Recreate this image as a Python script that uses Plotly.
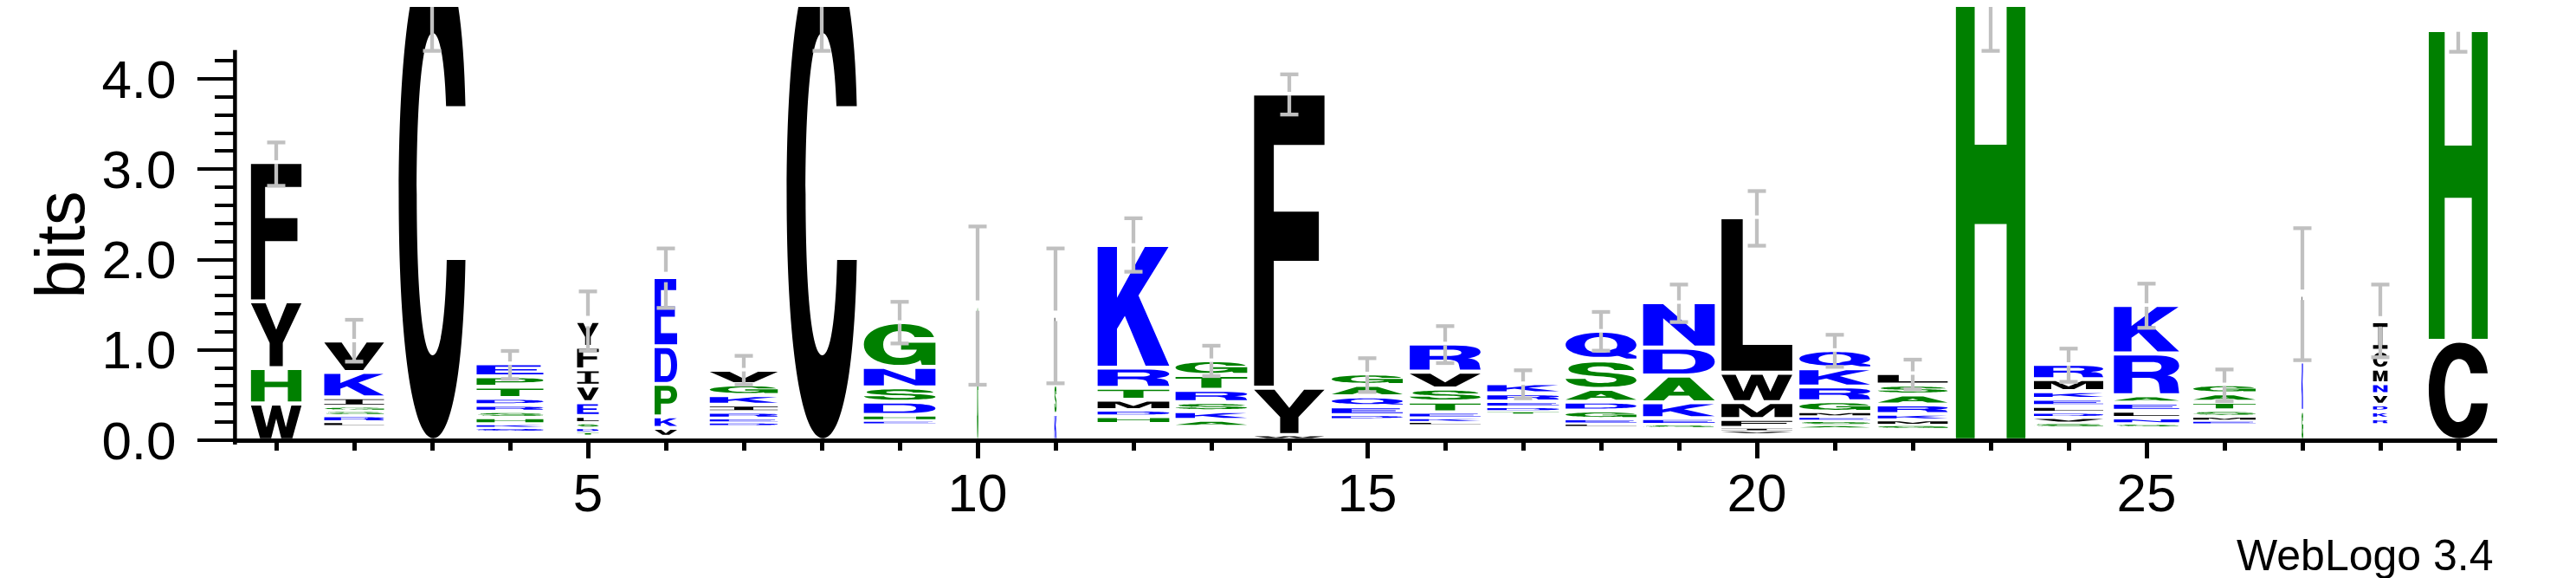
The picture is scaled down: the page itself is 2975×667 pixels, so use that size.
import re
import plotly.graph_objects as go

positions = list(range(1, 30))

# residues of every column, bottom -> top
stack_letters = [
    "WHYF", "LRSGIKV", "C", "QKHSRDTPE", "TDSLEVIFY", "VKPDE", "DERIKGV", "C",
    "EHDSNG", "G", "KSL", "HDMTRK", "AKSRTG", "WYF", "DEQAG", "LKETSVR", "TDERK",
    "LEGDASQ", "SEKADN", "VIFMWL", "ASEMGRKQ", "GMKRASL", "H", "SVDLEKMR",
    "SNLEARK", "EMSTAG", "GKL", "RKDVNMCI", "CH",
]
# height (bits) of each residue, same order
stack_bits = [
    [0.406, 0.392, 0.739, 1.543],
    [0.046, 0.074, 0.051, 0.048, 0.101, 0.281, 0.347],
    [5.45],
    [0.043, 0.042, 0.074, 0.066, 0.072, 0.077, 0.125, 0.115, 0.145],
    [0.034, 0.048, 0.054, 0.078, 0.153, 0.184, 0.179, 0.249, 0.286],
    [0.098, 0.128, 0.36, 0.417, 0.766],
    [0.037, 0.05, 0.067, 0.082, 0.107, 0.12, 0.161],
    [5.45],
    [0.038, 0.066, 0.147, 0.158, 0.227, 0.496],
    [1.49],
    [0.29, 0.33, 0.757],
    [0.088, 0.067, 0.114, 0.133, 0.222, 1.359],
    [0.074, 0.098, 0.10, 0.136, 0.165, 0.163],
    [0.043, 0.526, 3.255],
    [0.045, 0.096, 0.112, 0.126, 0.127],
    [0.032, 0.045, 0.064, 0.118, 0.144, 0.187, 0.312],
    [0.035, 0.048, 0.061, 0.09, 0.112],
    [0.032, 0.053, 0.094, 0.098, 0.141, 0.315, 0.329],
    [0.037, 0.069, 0.176, 0.297, 0.309, 0.504],
    [0.032, 0.034, 0.099, 0.187, 0.325, 1.722],
    [0.035, 0.048, 0.046, 0.054, 0.118, 0.163, 0.201, 0.203],
    [0.042, 0.058, 0.064, 0.107, 0.11, 0.109, 0.128],
    [5.2],
    [0.045, 0.064, 0.053, 0.072, 0.08, 0.085, 0.133, 0.168],
    [0.037, 0.067, 0.078, 0.09, 0.082, 0.462, 0.537],
    [0.037, 0.05, 0.067, 0.096, 0.093, 0.099],
    [0.326, 0.544, 0.74],
    [0.07, 0.08, 0.074, 0.117, 0.12, 0.16, 0.20, 0.325],
    [1.10, 3.44],
]
# bits of residues too rare to be drawn (bottom of each stack)
undrawn_bits = [0, 0.155, 0, 0.093, 0.054, 0.038, 0.157, 0, 0.176, 0, 0, 0.179,
                0.15, 0.013, 0.233, 0.169, 0.285, 0.15, 0.137, 0.07, 0.131,
                0.125, 0, 0.144, 0.144, 0.176, 0, 0.17, 0]
# stack width (fraction of a column; narrow = many gaps)
column_width = [0.648, 0.767, 0.856, 0.856, 0.278, 0.289, 0.872, 0.9, 0.919,
                0.017, 0.028, 0.919, 0.919, 0.903, 0.911, 0.908, 0.919, 0.908,
                0.919, 0.908, 0.908, 0.897, 0.892, 0.889, 0.837, 0.8, 0.022,
                0.186, 0.756]
err_low = [2.816, 0.870, 4.31, 0.678, 0.991, 1.464, 0.614, 4.31, 1.071, 0.614,
           0.630, 1.865, 0.710, 3.605, 0.534, 0.854, 0.464, 0.991, 1.308, 2.153,
           0.812, 0.566, 4.31, 0.646, 1.244, 0.432, 0.886, 0.918, 4.30]
err_high = [3.296, 1.333, 6.6, 0.988, 1.647, 2.123, 0.934, 6.6, 1.532, 2.366,
            2.123, 2.457, 1.046, 4.05, 0.908, 1.263, 0.774, 1.420, 1.723, 2.758,
            1.167, 0.892, 6.1, 1.014, 1.733, 0.783, 2.347, 1.723, 4.54]

y_tick_values = [0, 1, 2, 3, 4]
x_tick_values = [5, 10, 15, 20, 25]

# ---------------- styling ----------------
FONT = "Liberation Sans, Arial, Helvetica, sans-serif"
BLUE, GREEN, BLACK, GREY = "#0000FF", "#008000", "#000000", "#C0C0C0"
COLOR = {}
for r in "RKDENQ":
    COLOR[r] = BLUE
for r in "SGHTAP":
    COLOR[r] = GREEN
for r in "YVMCLFIW":
    COLOR[r] = BLACK

# glyph outlines in a unit box (x right, y up)
GLYPHS = {
    "A": ["M0,0 L0.35,1 L0.65,1 L1,0 L0.71,0 L0.64,0.21 L0.36,0.21 L0.29,0 Z "
          "M0.42,0.38 L0.58,0.38 L0.5,0.66 Z"],
    "C": ["M1,0.68 C0.97,0.89 0.78,1 0.52,1 C0.2,1 0,0.79 0,0.5 C0,0.2 0.2,0 0.52,0 "
          "C0.78,0 0.97,0.13 1,0.365 L0.72,0.365 C0.7,0.24 0.62,0.17 0.51,0.17 "
          "C0.36,0.17 0.27,0.3 0.27,0.5 C0.27,0.7 0.36,0.83 0.51,0.83 "
          "C0.62,0.83 0.69,0.77 0.71,0.68 Z"],
    "D": ["M0,0 L0.55,0 C0.85,0 1,0.2 1,0.5 C1,0.8 0.85,1 0.55,1 L0,1 Z "
          "M0.27,0.17 L0.5,0.17 C0.66,0.17 0.73,0.28 0.73,0.5 C0.73,0.72 0.66,0.83 0.5,0.83 "
          "L0.27,0.83 Z"],
    "E": ["M0,0 L1,0 L1,0.17 L0.28,0.17 L0.28,0.42 L0.9,0.42 L0.9,0.58 L0.28,0.58 "
          "L0.28,0.83 L0.96,0.83 L0.96,1 L0,1 Z"],
    "F": ["M0,0 L0.28,0 L0.28,0.43 L0.92,0.43 L0.92,0.6 L0.28,0.6 L0.28,0.83 L1,0.83 "
          "L1,1 L0,1 Z"],
    "G": ["M0.98,0.68 C0.94,0.9 0.76,1 0.52,1 C0.2,1 0,0.78 0,0.5 C0,0.2 0.2,0 0.5,0 "
          "C0.64,0 0.74,0.05 0.79,0.12 L0.81,0 L1,0 L1,0.54 L0.52,0.54 L0.52,0.37 "
          "L0.74,0.37 C0.72,0.24 0.63,0.17 0.51,0.17 C0.35,0.17 0.27,0.3 0.27,0.5 "
          "C0.27,0.7 0.36,0.83 0.51,0.83 C0.62,0.83 0.69,0.77 0.71,0.68 Z"],
    "H": ["M0,0 L0.27,0 L0.27,0.46 L0.73,0.46 L0.73,0 L1,0 L1,1 L0.73,1 L0.73,0.63 "
          "L0.27,0.63 L0.27,1 L0,1 Z"],
    "I": ["M0,0 L1,0 L1,0.14 L0.64,0.14 L0.64,0.86 L1,0.86 L1,1 L0,1 L0,0.86 "
          "L0.36,0.86 L0.36,0.14 L0,0.14 Z"],
    "K": ["M0,0 L0,1 L0.27,1 L0.27,0.57 L0.66,1 L0.99,1 L0.57,0.59 L1,0 L0.67,0 "
          "L0.38,0.42 L0.27,0.31 L0.27,0 Z"],
    "L": ["M0,0 L1,0 L1,0.17 L0.3,0.17 L0.3,1 L0,1 Z"],
    "M": ["M0,0 L0,1 L0.31,1 L0.5,0.33 L0.69,1 L1,1 L1,0 L0.75,0 L0.75,0.7 L0.58,0 "
          "L0.42,0 L0.25,0.7 L0.25,0 Z"],
    "N": ["M0,0 L0,1 L0.28,1 L0.72,0.34 L0.72,1 L1,1 L1,0 L0.72,0 L0.28,0.66 L0.28,0 Z"],
    "P": ["M0,0 L0.28,0 L0.28,0.38 L0.6,0.38 C0.87,0.38 1,0.52 1,0.69 C1,0.88 0.87,1 0.6,1 "
          "L0,1 Z M0.28,0.55 L0.56,0.55 C0.67,0.55 0.73,0.6 0.73,0.69 C0.73,0.78 0.67,0.83 "
          "0.56,0.83 L0.28,0.83 Z"],
    "Q": ["M0.5,0.06 C0.22,0.06 0,0.25 0,0.53 C0,0.81 0.22,1 0.5,1 C0.78,1 1,0.81 1,0.53 "
          "C1,0.25 0.78,0.06 0.5,0.06 Z M0.5,0.22 C0.36,0.22 0.27,0.34 0.27,0.53 "
          "C0.27,0.72 0.36,0.84 0.5,0.84 C0.64,0.84 0.73,0.72 0.73,0.53 "
          "C0.73,0.34 0.64,0.22 0.5,0.22 Z",
          "M0.56,0.27 L0.7,0.38 L1,0.1 L1,0 L0.86,0 Z"],
    "R": ["M0,0 L0.28,0 L0.28,0.41 L0.5,0.41 C0.62,0.41 0.68,0.35 0.69,0.24 L0.71,0 L1,0 "
          "L0.98,0.26 C0.96,0.38 0.91,0.44 0.82,0.47 C0.93,0.52 1,0.61 1,0.73 "
          "C1,0.9 0.88,1 0.64,1 L0,1 Z M0.28,0.57 L0.58,0.57 C0.68,0.57 0.73,0.63 0.73,0.7 "
          "C0.73,0.78 0.68,0.83 0.58,0.83 L0.28,0.83 Z"],
    "S": ["M0.69,0.69 C0.67,0.79 0.6,0.84 0.49,0.84 C0.38,0.84 0.31,0.79 0.31,0.72 "
          "C0.31,0.64 0.38,0.62 0.55,0.58 C0.85,0.51 1,0.43 1,0.27 C1,0.09 0.81,0 0.51,0 "
          "C0.2,0 0.02,0.12 0,0.33 L0.28,0.33 C0.3,0.21 0.38,0.16 0.51,0.16 "
          "C0.64,0.16 0.72,0.21 0.72,0.29 C0.72,0.37 0.64,0.4 0.48,0.43 "
          "C0.18,0.49 0.04,0.57 0.04,0.73 C0.04,0.91 0.23,1 0.5,1 C0.78,1 0.95,0.89 0.97,0.69 Z"],
    "T": ["M0.36,0 L0.64,0 L0.64,0.83 L1,0.83 L1,1 L0,1 L0,0.83 L0.36,0.83 Z"],
    "V": ["M0,1 L0.29,1 L0.5,0.33 L0.71,1 L1,1 L0.65,0 L0.35,0 Z"],
    "W": ["M0,1 L0.2,1 L0.31,0.33 L0.42,1 L0.58,1 L0.69,0.33 L0.8,1 L1,1 L0.82,0 "
          "L0.6,0 L0.5,0.6 L0.4,0 L0.18,0 Z"],
    "Y": ["M0,1 L0.29,1 L0.5,0.58 L0.71,1 L1,1 L0.63,0.37 L0.63,0 L0.37,0 L0.37,0.37 Z"],
}

PX_PER_BIT = 104.25          # vertical scale of the plot area
PLOT_H = 500                 # plot area height in px
Y_MAX = PLOT_H / PX_PER_BIT
LETTER_GAP = 4.6 / PX_PER_BIT
CAP_HALF = 10.5 / 90.0

pair = re.compile(r"(-?\d*\.?\d+),(-?\d*\.?\d+)")


def place(path, x0, w, y0, h):
    return pair.sub(
        lambda m: f"{x0 + float(m.group(1)) * w:.5f},{y0 + float(m.group(2)) * h:.5f}", path)


shapes = []
tops = []
for pos, letters, bits, base, w in zip(positions, stack_letters, stack_bits,
                                       undrawn_bits, column_width):
    y = base
    for res, hb in zip(letters, bits):
        g = min(LETTER_GAP, 0.55 * hb)
        ink = hb - g
        if ink * PX_PER_BIT >= 0.8:
            for p in GLYPHS[res]:
                shapes.append(dict(
                    type="path", xref="x", yref="y", layer="below",
                    path=place(p, pos - w / 2, w, y + g / 2, ink),
                    fillcolor=COLOR[res], line=dict(width=0), fillrule="evenodd"))
        y += hb
    tops.append(y)

# error bars (drawn as one line trace)
ex, ey = [], []
for pos, top, lo, hi, w in zip(positions, tops, err_low, err_high, column_width):
    gap = (4 if w >= 0.35 else 12) / 2 / PX_PER_BIT
    ex += [pos, pos, None, pos - CAP_HALF, pos + CAP_HALF, None]
    ey += [lo, top - gap, None, lo, lo, None]
    if hi - top > 0.01:
        ex += [pos, pos, None, pos - CAP_HALF, pos + CAP_HALF, None]
        ey += [top + gap, hi, None, hi, hi, None]

fig = go.Figure(go.Scatter(x=ex, y=ey, mode="lines",
                           line=dict(color=GREY, width=4.3),
                           hoverinfo="skip", showlegend=False))

# axis lines (y axis stops at log2(20))
shapes.append(dict(type="line", xref="paper", yref="paper",
                   x0=-2.6 / 2610, x1=-2.6 / 2610, y0=-5 / PLOT_H, y1=4.32 / Y_MAX,
                   line=dict(color=BLACK, width=4.5), layer="above"))
shapes.append(dict(type="line", xref="paper", yref="paper",
                   x0=-5 / 2610, x1=1.0, y0=-0.4 / PLOT_H, y1=-0.4 / PLOT_H,
                   line=dict(color=BLACK, width=5), layer="above"))

fig.update_layout(
    width=2975, height=667,
    margin=dict(l=266, r=99, t=0, b=167, pad=0),
    paper_bgcolor="white", plot_bgcolor="white",
    shapes=shapes,
    showlegend=False,
    xaxis=dict(range=[0.5, 29.5], showgrid=False, zeroline=False, showline=False,
               tickmode="array", tickvals=x_tick_values,
               ticktext=[str(v) for v in x_tick_values],
               ticks="outside", ticklen=20, tickwidth=4.5, tickcolor=BLACK,
               tickfont=dict(family=FONT, size=62, color=BLACK),
               ticklabelstandoff=-13,
               minor=dict(tickmode="array",
                          tickvals=[p for p in positions if p % 5],
                          ticks="outside", ticklen=11, tickwidth=4.5,
                          tickcolor=BLACK, showgrid=False)),
    yaxis=dict(range=[0, Y_MAX], showgrid=False, zeroline=False, showline=False,
               tickmode="array", tickvals=y_tick_values,
               ticktext=[f"{v:.1f}" for v in y_tick_values],
               ticks="outside", ticklen=45, tickwidth=4.3, tickcolor=BLACK,
               tickfont=dict(family=FONT, size=62, color=BLACK),
               ticklabelstandoff=12,
               minor=dict(tickmode="array",
                          tickvals=[round(0.2 * k, 1) for k in range(1, 22) if k % 5],
                          ticks="outside", ticklen=25, tickwidth=4.3,
                          tickcolor=BLACK, showgrid=False)),
    annotations=[
        dict(text="bits", xref="paper", yref="y", x=(62 - 266) / 2610, y=4.32 / 2,
             xanchor="center", yanchor="middle", textangle=-90, showarrow=False,
             font=dict(family=FONT, size=80, color=BLACK)),
        dict(text="WebLogo 3.4", xref="paper", yref="paper",
             x=(2874 - 266) / 2610, y=(PLOT_H - 633) / PLOT_H,
             xanchor="right", yanchor="middle", showarrow=False,
             font=dict(family=FONT, size=50, color=BLACK)),
    ],
)

fig.write_html("out.html")
